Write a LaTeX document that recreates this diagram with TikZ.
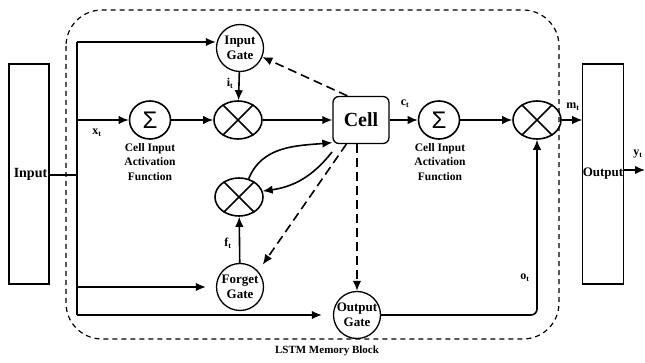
\documentclass[tikz,border=0pt]{standalone}
\usepackage{fontspec}
\setmainfont{Liberation Serif}
\newfontfamily\sigfont{Liberation Sans}
\usetikzlibrary{shapes.geometric,arrows.meta}
\begin{document}
\begin{tikzpicture}[x=1pt,y=-1pt,
 gate/.style={circle,draw,line width=1.3pt,minimum size=47pt,inner sep=0pt,align=center,font=\fontsize{13}{15}\selectfont\bfseries},
 mult/.style={ellipse,draw,line width=1.6pt,minimum width=48pt,minimum height=38pt,inner sep=0pt},
 summ/.style={ellipse,draw,line width=1.6pt,minimum width=41pt,minimum height=38pt,inner sep=0pt,font=\fontsize{24}{24}\sigfont},
 conn/.style={line width=1.6pt,-{Latex[length=10pt,width=8.5pt]}},
 dconn/.style={line width=1.6pt,dash pattern=on 9pt off 5pt,-{Latex[length=10pt,width=8.5pt]}},
 lbl/.style={font=\fontsize{12}{12}\selectfont\bfseries},
 capt/.style={align=center,font=\fontsize{11.5}{14.5}\selectfont\bfseries},
 iobox/.style={draw,line width=1.2pt,minimum width=40pt,minimum height=220pt,inner sep=0pt,font=\fontsize{14}{14}\selectfont\bfseries},
 bound/.style={line width=1.2pt,dash pattern=on 5pt off 4pt,rounded corners=36pt}
]
\useasboundingbox (0,0) rectangle (645,363);

% memory block boundary
\draw[bound] (66,10) rectangle (559,339);
\node[font=\fontsize{11}{11}\selectfont\bfseries] (blk) at (327,351) {LSTM Memory Block};

% input / output boxes
\node[iobox] (in) at (29,174) {\hspace*{3pt}Input};
\node[iobox,font=\fontsize{13}{13}\selectfont\bfseries] (out) at (603,174) {\raisebox{-2pt}{Output}};

% gates
\node[gate] (ig) at (240,48) {Input\\Gate};
\node[gate] (fg) at (240,287) {Forget\\Gate};
\node[gate] (og) at (357,315) {Output\\Gate};

% sums and multipliers
\node[summ] (s1) at (150,120) {Σ};
\node[summ] (s2) at (439,120) {Σ};
\node[mult] (m1) at (238,120) {};
\node[mult] (m2) at (537,120) {};
\node[mult] (m3) at (239,197) {};
\foreach \m in {m1,m2,m3}{
  \draw[line width=1.6pt] (\m.45) -- (\m.225) (\m.135) -- (\m.315);
}

% cell
\node[draw,rounded corners=6pt,line width=1.3pt,minimum width=56pt,minimum height=47pt,
      font=\fontsize{20}{20}\selectfont\bfseries] (cell) at (361,120) {Cell};

% captions
\node[capt] (cap1) at (150,162) {Cell Input\\Activation\\Function};
\node[capt] (cap2) at (440,162) {Cell Input\\Activation\\Function};

% trunk
\coordinate (ttop) at (77,42);
\coordinate (tx) at (77,120);
\coordinate (tin) at (77,175);
\coordinate (tf) at (77,287);
\coordinate (tbot) at (77,315);
\draw[line width=1.6pt] (in.east |- tin) -- (tin);
\draw[line width=1.6pt] (ttop) -- (tbot);
\draw[conn] (ttop) -- (ig.west |- ttop);
\draw[conn] (tx) -- (s1);
\draw[conn,shorten >=10pt] (tf) -- (fg);
\draw[conn,shorten >=11pt] (tbot) -- (og);

% main path
\draw[conn] (s1) -- (m1);
\draw[conn] (ig) -- (m1);
\draw[conn] (m1) -- (cell);
\draw[conn] (cell) -- (s2);
\draw[conn] (s2) -- (m2);
\draw[conn] (m2) -- (out.west |- m2);
\coordinate (yt) at (623,170);
\coordinate (yend) at (645,170);
\draw[conn] (yt) -- (yend);
\draw[conn] (fg) -- (m3);
\draw[conn,rounded corners=6pt] (og.east) -- (m2 |- og.east) -- (m2.south);

% cell feedback curves
\draw[conn] (m3.62) to[out=68,in=185] ([yshift=1.5pt]cell.south west);
\coordinate (c2s) at (332,152);
\draw[conn] (c2s) to[out=232,in=8] (m3.14);

% dashed peephole connections
\draw[dconn] ([xshift=15pt]cell.north west) -- (ig.-22);
\draw[dconn,shorten >=8pt] ([xshift=14pt]cell.south west) -- (fg.41);
\draw[dconn] (og.north |- cell.south) -- (og.north);

% labels
\node[lbl] (xt) at (97,133) {x\textsubscript{t}};
\node[lbl] (it) at (230,83) {i\textsubscript{t}};
\node[lbl] (ft) at (228,243) {f\textsubscript{t}};
\node[lbl] (ct) at (405,104) {c\textsubscript{t}};
\node[lbl] (mt) at (573,107) {m\textsubscript{t}};
\node[lbl] (ytl) at (638,154) {y\textsubscript{t}};
\node[lbl] (ot) at (525,278) {o\textsubscript{t}};
\end{tikzpicture}
\end{document}
